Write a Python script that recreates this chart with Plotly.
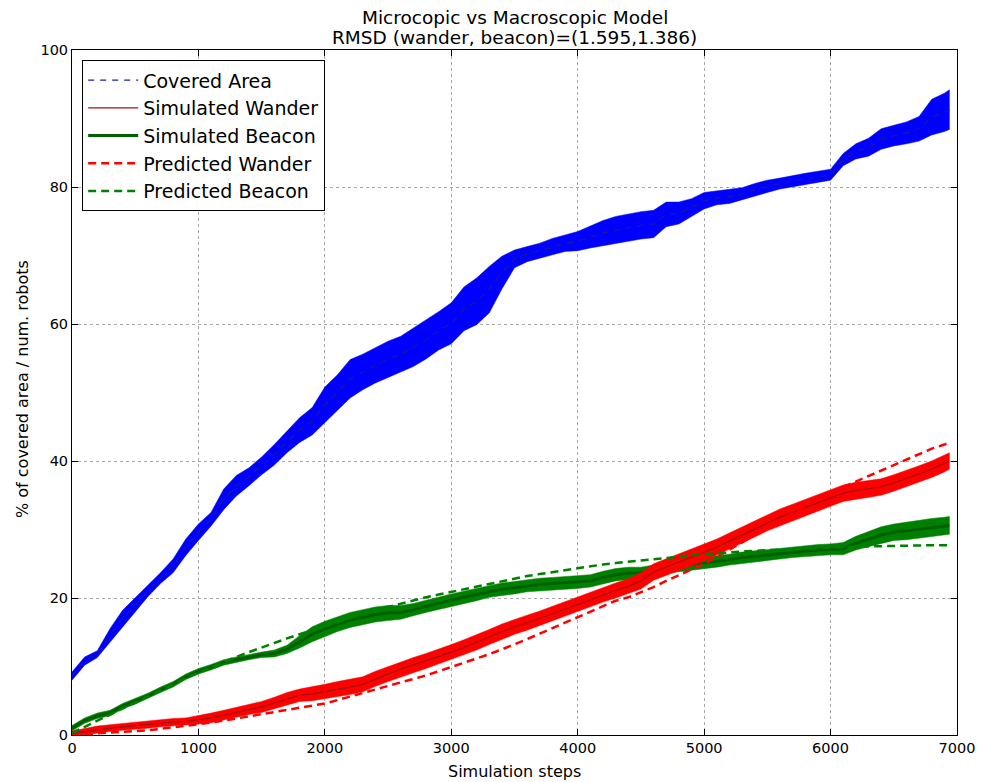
import plotly.graph_objects as go

steps = [0, 100, 200, 300, 400, 500, 600, 700, 800, 900,
         1000, 1100, 1200, 1300, 1400, 1500, 1600, 1700, 1800, 1900,
         2000, 2100, 2200, 2300, 2400, 2500, 2600, 2700, 2800, 2900,
         3000, 3100, 3200, 3300, 3400, 3500, 3600, 3700, 3800, 3900,
         4000, 4100, 4200, 4300, 4400, 4500, 4600, 4700, 4800, 4900,
         5000, 5100, 5200, 5300, 5400, 5500, 5600, 5700, 5800, 5900,
         6000, 6100, 6200, 6300, 6400, 6500, 6600, 6700, 6800, 6900, 6940]

area_mean = [8.6, 10.8, 11.8, 14.5, 17.0, 19.0, 21.0, 22.9, 24.7, 27.4,
             29.6, 31.5, 34.4, 36.4, 37.7, 39.3, 40.9, 42.8, 44.5, 45.8,
             48.2, 50.0, 52.0, 53.0, 54.0, 54.9, 55.6, 56.6, 57.7, 59.0,
             60.1, 62.2, 63.3, 65.0, 67.5, 69.5, 70.2, 70.7, 71.3, 71.8,
             72.1, 72.7, 73.3, 73.7, 74.1, 74.4, 74.6, 76.0, 76.2, 77.0,
             78.0, 78.4, 78.6, 79.0, 79.6, 80.1, 80.5, 80.9, 81.2, 81.5,
             81.8, 84.0, 85.2, 85.8, 87.0, 87.5, 87.9, 88.5, 90.2, 90.9, 91.3]
area_std = [0.6, 0.6, 0.5, 1.0, 1.2, 1.0, 0.8, 0.8, 1.0, 1.2,
            1.2, 1.0, 1.5, 1.5, 1.3, 1.3, 1.5, 1.6, 1.8, 2.0,
            2.6, 2.6, 2.8, 2.6, 2.6, 2.6, 2.6, 2.8, 2.8, 2.8,
            3.0, 3.2, 3.4, 3.4, 2.4, 1.3, 1.1, 1.1, 1.2, 1.2,
            1.4, 1.6, 1.8, 2.0, 2.0, 2.0, 2.0, 1.8, 1.6, 1.3,
            1.2, 1.0, 1.0, 0.9, 0.9, 0.9, 0.8, 0.8, 0.8, 0.8,
            0.8, 0.9, 1.1, 1.3, 1.5, 1.5, 1.6, 1.8, 2.6, 2.8, 2.9]

wander_sim = [0.2, 0.5, 0.8, 1.0, 1.2, 1.4, 1.5, 1.7, 1.9, 2.0,
              2.2, 2.5, 2.9, 3.3, 3.7, 4.1, 4.7, 5.3, 5.8, 6.0,
              6.3, 6.7, 7.0, 7.4, 8.2, 8.9, 9.6, 10.2, 10.8, 11.4,
              12.1, 12.8, 13.5, 14.3, 15.1, 15.8, 16.4, 17.0, 17.7, 18.4,
              19.1, 19.8, 20.5, 21.1, 21.7, 22.5, 23.8, 24.5, 25.2, 25.9,
              26.6, 27.4, 28.3, 29.2, 30.1, 31.0, 31.8, 32.5, 33.2, 33.9,
              34.6, 35.3, 35.7, 35.9, 36.2, 36.8, 37.4, 38.1, 38.8, 39.6, 40.0]
wander_std = [0.4, 0.5, 0.5, 0.5, 0.5, 0.5, 0.5, 0.5, 0.5, 0.5,
              0.6, 0.7, 0.7, 0.7, 0.7, 0.8, 0.8, 0.9, 0.9, 1.0,
              1.1, 1.1, 1.1, 1.1, 1.1, 1.1, 1.1, 1.1, 1.1, 1.1,
              1.1, 1.1, 1.1, 1.1, 1.1, 1.1, 1.1, 1.1, 1.1, 1.1,
              1.1, 1.1, 1.1, 1.1, 1.1, 1.2, 1.2, 1.2, 1.2, 1.2,
              1.2, 1.2, 1.2, 1.2, 1.2, 1.2, 1.2, 1.2, 1.2, 1.2,
              1.2, 1.2, 1.2, 1.2, 1.2, 1.2, 1.2, 1.2, 1.2, 1.2, 1.2]

beacon_sim = [1.0, 2.1, 2.8, 3.2, 4.2, 4.9, 5.7, 6.6, 7.4, 8.5,
              9.3, 9.9, 10.6, 11.0, 11.4, 11.7, 11.9, 12.5, 13.6, 14.7,
              15.5, 16.2, 16.8, 17.2, 17.6, 17.8, 17.9, 18.3, 18.8, 19.3,
              19.7, 20.1, 20.5, 21.0, 21.3, 21.5, 21.8, 22.0, 22.1, 22.2,
              22.3, 22.5, 23.0, 23.4, 23.6, 23.7, 24.0, 24.4, 24.7, 24.9,
              25.1, 25.3, 25.6, 25.9, 26.1, 26.3, 26.5, 26.7, 26.9, 27.0,
              27.1, 27.2, 28.0, 28.6, 29.2, 29.6, 29.8, 30.0, 30.3, 30.5, 30.6]
beacon_std = [0.4, 0.4, 0.4, 0.4, 0.4, 0.4, 0.4, 0.4, 0.4, 0.4,
              0.4, 0.4, 0.4, 0.4, 0.4, 0.4, 0.5, 0.6, 0.9, 1.1,
              1.1, 1.1, 1.1, 1.1, 1.1, 1.1, 1.0, 0.9, 0.9, 0.9,
              0.9, 0.9, 0.9, 0.9, 0.9, 0.9, 0.9, 0.9, 0.9, 0.9,
              0.9, 0.9, 0.9, 0.9, 0.9, 0.8, 0.8, 0.8, 0.8, 0.8,
              0.8, 0.8, 0.8, 0.8, 0.8, 0.8, 0.8, 0.8, 0.8, 0.8,
              0.8, 0.9, 1.0, 1.1, 1.2, 1.2, 1.3, 1.3, 1.3, 1.3, 1.3]

wander_pred = [0.0, 0.1, 0.2, 0.3, 0.4, 0.5, 0.7, 0.9, 1.1, 1.3,
               1.5, 1.8, 2.1, 2.4, 2.7, 3.0, 3.3, 3.6, 3.9, 4.3,
               4.6, 5.1, 5.6, 6.1, 6.6, 7.1, 7.7, 8.2, 8.7, 9.3,
               9.9, 10.5, 11.1, 11.8, 12.5, 13.2, 14.0, 14.8, 15.6, 16.4,
               17.2, 18.0, 18.8, 19.6, 20.1, 20.8, 21.6, 22.5, 23.3, 24.2,
               25.0, 26.0, 27.0, 28.1, 29.2, 30.3, 31.4, 32.4, 33.4, 34.4,
               35.4, 36.2, 37.0, 37.8, 38.6, 39.4, 40.2, 41.0, 41.8, 42.4, 42.7]

beacon_pred = [0.3, 1.2, 2.1, 3.0, 3.9, 4.8, 5.7, 6.6, 7.5, 8.3,
               9.1, 9.9, 10.7, 11.4, 12.1, 12.8, 13.4, 14.1, 14.7, 15.3,
               15.9, 16.5, 17.1, 17.6, 18.2, 18.7, 19.2, 19.6, 20.1, 20.5,
               20.9, 21.3, 21.7, 22.1, 22.5, 22.8, 23.2, 23.5, 23.8, 24.1,
               24.4, 24.6, 24.9, 25.1, 25.3, 25.5, 25.7, 25.9, 26.1, 26.2,
               26.4, 26.5, 26.7, 26.8, 26.9, 27.0, 27.1, 27.2, 27.3, 27.35,
               27.4, 27.45, 27.5, 27.55, 27.6, 27.6, 27.65, 27.7, 27.7, 27.7, 27.7]

x_ticks = [0, 1000, 2000, 3000, 4000, 5000, 6000, 7000]
y_ticks = [0, 20, 40, 60, 80, 100]
title_lines = ["Microcopic vs Macroscopic Model", "RMSD (wander, beacon)=(1.595,1.386)"]
x_label = "Simulation steps"
y_label = "% of covered area / num. robots"

FONT = "DejaVu Sans"


def band(mean, std, color):
    upper = [m + s for m, s in zip(mean, std)]
    lower = [m - s for m, s in zip(mean, std)]
    return go.Scatter(x=steps + steps[::-1], y=upper + lower[::-1],
                      fill="toself", fillcolor=color, mode="lines",
                      line=dict(width=0.5, color=color), showlegend=False,
                      hoverinfo="skip")


fig = go.Figure()
fig.add_trace(band(area_mean, area_std, "#0000ff"))
fig.add_trace(go.Scatter(x=steps, y=area_mean, mode="lines", name="Covered Area",
                         legendgroup="a", legendrank=1,
                         line=dict(color="#1c1c8c", width=1.2, dash="6px,6px")))
fig.add_trace(band(beacon_sim, beacon_std, "#008000"))
fig.add_trace(go.Scatter(x=steps, y=beacon_sim, mode="lines", name="Simulated Beacon",
                         legendgroup="c", legendrank=3,
                         line=dict(color="#006000", width=3)))
fig.add_trace(band(wander_sim, wander_std, "#ff0000"))
fig.add_trace(go.Scatter(x=steps, y=wander_sim, mode="lines", name="Simulated Wander",
                         legendgroup="b", legendrank=2,
                         line=dict(color="#a01010", width=1.2)))
fig.add_trace(go.Scatter(x=steps, y=wander_pred, mode="lines", name="Predicted Wander",
                         legendgroup="d", legendrank=4,
                         line=dict(color="#ff0000", width=2.5, dash="8px,5px")))
fig.add_trace(go.Scatter(x=steps, y=beacon_pred, mode="lines", name="Predicted Beacon",
                         legendgroup="e", legendrank=5,
                         line=dict(color="#008000", width=2.5, dash="8px,5px")))

axis_common = dict(showline=True, linecolor="black", linewidth=1, mirror="ticks",
                   ticks="inside", ticklen=6, tickcolor="black", tickwidth=1,
                   showgrid=True, gridcolor="#a8a8a8", griddash="dot", gridwidth=1,
                   zeroline=False, automargin=False,
                   tickfont=dict(family=FONT, size=14.5, color="black"))

fig.update_xaxes(range=[0, 7000], tickvals=x_ticks, ticktext=[str(v) for v in x_ticks],
                 **axis_common)
fig.update_yaxes(range=[0, 100], tickvals=y_ticks, ticktext=[str(v) for v in y_ticks],
                 **axis_common)

for txt, ypx in zip(title_lines, [17, 38]):
    fig.add_annotation(text=txt, x=0.5, xref="paper", xanchor="center",
                       y=(735 - ypx) / 685, yref="paper", yanchor="middle",
                       showarrow=False, font=dict(family=FONT, size=18.5, color="black"))

fig.add_annotation(text=x_label, x=0.5, xref="paper", xanchor="center",
                   y=(735 - 771) / 685, yref="paper", yanchor="middle",
                   showarrow=False, font=dict(family=FONT, size=16, color="black"))
fig.add_annotation(text=y_label, x=(22 - 72) / 885, xref="paper", xanchor="center",
                   y=(735 - 389) / 685, yref="paper", yanchor="middle", textangle=-90,
                   showarrow=False, font=dict(family=FONT, size=16, color="black"))

fig.update_layout(
    width=987, height=782,
    margin=dict(l=72, r=30, t=50, b=47),
    paper_bgcolor="white", plot_bgcolor="white",
    font=dict(family=FONT, color="black"),
    legend=dict(x=0.0115, y=0.985, xanchor="left", yanchor="top",
                bgcolor="white", bordercolor="black", borderwidth=1,
                font=dict(family=FONT, size=19, color="black"),
                tracegroupgap=0, itemwidth=50),
    showlegend=True,
)

fig.write_html("out.html")
